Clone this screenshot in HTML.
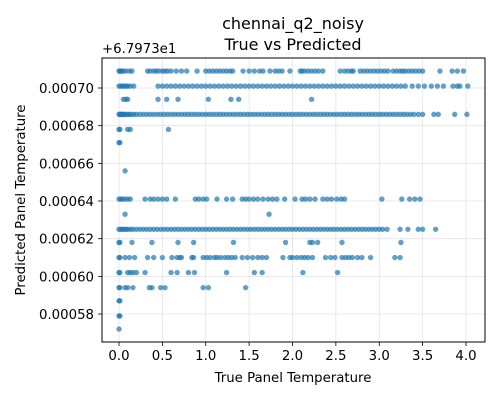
<!DOCTYPE html>
<html><head><meta charset="utf-8"><style>
body{margin:0;background:#fff;}
svg{display:block;font-family:"DejaVu Sans","Liberation Sans",sans-serif;}
</style></head><body>
<svg id="chart" width="500" height="400" viewBox="0 0 500 400">
<text x="293" y="29" text-anchor="middle" font-size="16">chennai_q2_noisy</text>
<text x="293" y="50" text-anchor="middle" font-size="16">True vs Predicted</text>
<text x="102" y="53" font-size="13.3">+6.7973e1</text>
<text x="293" y="382" text-anchor="middle" font-size="13.3">True Panel Temperature</text>
<text transform="translate(25,200) rotate(-90)" text-anchor="middle" font-size="13.3">Predicted Panel Temperature</text>
<g id="grid"></g><g id="ticks"></g><g id="points"></g>
<rect x="102" y="58" width="383" height="284" fill="none" stroke="#000" stroke-width="1"/>
</svg>
<script>
const xTicks=[0,0.5,1,1.5,2,2.5,3,3.5,4];
const xTickLabels=["0.0","0.5","1.0","1.5","2.0","2.5","3.0","3.5","4.0"];
const yTicks=[0.00058,0.00060,0.00062,0.00064,0.00066,0.00068,0.00070];
const yTickLabels=["0.00058","0.00060","0.00062","0.00064","0.00066","0.00068","0.00070"];
const rowLevels=[0.000709,0.000701,0.000694,0.000686,0.000678,0.000671,0.000656,0.000641,0.000633,0.000625,0.000618,0.000610,0.000602,0.000594,0.000587,0.000579,0.000572];
const rowX=[
[0,0.01,0.02,0.03,0.05,0.08,0.12,0.15,0.33,0.36,0.4,0.43,0.46,0.5,0.53,0.56,0.6,0.66,0.72,0.78,0.9,1.0,1.04,1.08,1.12,1.16,1.2,1.24,1.28,1.31,1.43,1.5,1.56,1.62,1.66,1.74,1.8,1.84,1.88,1.97,2.09,2.11,2.14,2.18,2.22,2.26,2.3,2.35,2.55,2.6,2.64,2.68,2.7,2.78,2.82,2.86,2.9,2.94,2.98,3.02,3.06,3.1,3.16,3.2,3.24,3.27,3.3,3.34,3.38,3.42,3.46,3.5,3.7,3.84,3.9,3.97],
[0,0.02,0.04,0.06,0.08,0.1,0.13,0.17,0.45,0.5,0.55,0.6,0.65,0.7,0.75,0.8,0.85,0.9,0.95,1.0,1.05,1.1,1.15,1.2,1.25,1.3,1.35,1.4,1.45,1.5,1.55,1.6,1.65,1.7,1.75,1.8,1.85,1.9,1.95,2.0,2.05,2.1,2.15,2.2,2.25,2.3,2.35,2.4,2.45,2.5,2.55,2.6,2.65,2.7,2.75,2.8,2.85,2.9,2.95,3.0,3.05,3.1,3.15,3.2,3.25,3.3,3.38,3.45,3.52,3.6,3.67,3.74,3.85,3.9,3.93,4.02],
[0.05,0.08,0.1,0.45,0.55,0.68,1.03,1.29,1.38,2.22],
[0,0.01,0.02,0.03,0.04,0.05,0.06,0.08,0.1,0.12,0.14,0.17,0.2,0.24,0.28,0.32,0.36,0.4,0.44,0.48,0.52,0.56,0.6,0.64,0.68,0.72,0.76,0.8,0.84,0.88,0.92,0.96,1.0,1.04,1.08,1.12,1.16,1.2,1.24,1.28,1.32,1.36,1.4,1.44,1.48,1.52,1.56,1.6,1.64,1.68,1.72,1.76,1.8,1.84,1.88,1.92,1.96,2.0,2.04,2.08,2.12,2.16,2.2,2.24,2.28,2.32,2.36,2.4,2.44,2.48,2.52,2.56,2.6,2.64,2.68,2.72,2.76,2.8,2.84,2.88,2.92,2.96,3.0,3.04,3.08,3.12,3.16,3.2,3.24,3.28,3.32,3.36,3.4,3.45,3.5,3.63,3.68,3.87,4.01],
[0,0.01,0.1,0.13,0.57],
[0,0.01],
[0.07],
[0,0.02,0.04,0.07,0.1,0.13,0.3,0.36,0.4,0.45,0.5,0.55,0.65,0.88,0.92,0.97,1.01,1.13,1.24,1.31,1.42,1.46,1.5,1.55,1.6,1.66,1.72,1.77,1.82,1.91,2.03,2.11,2.15,2.2,2.26,2.35,2.4,2.45,2.51,2.56,2.6,3.03,3.26,3.35,3.41,3.47],
[0.07,1.73],
[0,0.02,0.04,0.06,0.08,0.1,0.13,0.16,0.2,0.24,0.28,0.32,0.36,0.4,0.44,0.48,0.52,0.56,0.6,0.64,0.68,0.72,0.76,0.8,0.84,0.88,0.92,0.96,1.0,1.04,1.08,1.12,1.16,1.2,1.24,1.28,1.32,1.36,1.4,1.44,1.48,1.52,1.56,1.6,1.64,1.68,1.72,1.76,1.8,1.84,1.88,1.92,1.96,2.0,2.04,2.08,2.12,2.16,2.2,2.24,2.28,2.32,2.36,2.4,2.44,2.48,2.52,2.56,2.6,2.64,2.68,2.72,2.76,2.8,2.84,2.88,2.92,2.96,3.0,3.04,3.09,3.24,3.33,3.45,3.5,3.65],
[0,0.01,0.15,0.38,0.68,0.86,1.32,1.92,2.2,2.23,2.29,2.57,3.25],
[0,0.01,0.07,0.12,0.18,0.33,0.4,0.5,0.61,0.67,0.7,0.72,0.84,0.86,0.97,1.01,1.05,1.1,1.13,1.17,1.22,1.26,1.3,1.34,1.42,1.48,1.54,1.6,1.65,1.7,1.89,1.97,2.0,2.05,2.1,2.14,2.18,2.23,2.38,2.44,2.49,2.57,2.61,2.65,2.69,2.75,2.8,2.9,3.18,3.24],
[0,0.01,0.1,0.13,0.16,0.2,0.3,0.6,0.67,0.8,0.87,1.24,1.56,1.65,2.12,2.52],
[0,0.01,0.07,0.1,0.16,0.35,0.38,0.48,0.53,0.97,1.03,1.46],
[0,0.01],
[0,0.01],
[0]
];
const X0=119,XS=86.75,Y0=88,YS=1883500;
function sx(v){return X0+v*XS;}
function sy(v){return Y0-(v-0.0007)*YS;}
const NS="http://www.w3.org/2000/svg";
const grid=document.getElementById('grid'),ticks=document.getElementById('ticks'),pts=document.getElementById('points');
function mk(tag,attrs,parent){const e=document.createElementNS(NS,tag);for(const k in attrs)e.setAttribute(k,attrs[k]);parent.appendChild(e);return e;}
xTicks.forEach((t,i)=>{
  const x=sx(t);
  const g=mk('line',{x1:x,x2:x,y1:58,y2:342,stroke:'#e3e3e3','stroke-width':0.8},grid);
  
  
  const tk=mk('line',{x1:x,x2:x,y1:342,y2:346,stroke:'#000','stroke-width':0.8},ticks);
  
  
  const tx=mk('text',{x:x,y:360,'text-anchor':'middle','font-size':13.3},ticks);
  tx.textContent=xTickLabels[i];
  
  
});
yTicks.forEach((t,i)=>{
  const y=sy(t);
  const g=mk('line',{x1:102,x2:485,y1:y,y2:y,stroke:'#e3e3e3','stroke-width':0.8},grid);
  
  
  const tk=mk('line',{x1:98,x2:102,y1:y,y2:y,stroke:'#000','stroke-width':0.8},ticks);
  
  
  const tx=mk('text',{x:94,y:y+5,'text-anchor':'end','font-size':13.3},ticks);
  tx.textContent=yTickLabels[i];
  
  
});
rowLevels.forEach((lv,r)=>{
  rowX[r].forEach(xv=>{
    const c=mk('circle',{cx:sx(xv),cy:sy(lv),r:2.7,fill:'#1f77b4','fill-opacity':0.7},pts);
    
    
  });
});
</script>
</body></html>
